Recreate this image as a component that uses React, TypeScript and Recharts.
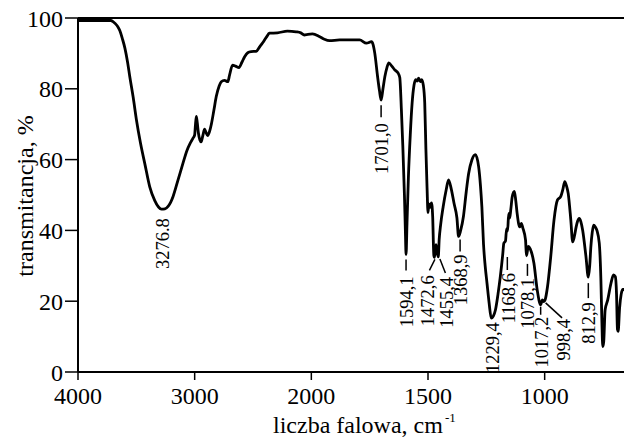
import React from "react";
import {
  LineChart,
  Line,
  XAxis,
  YAxis,
  ReferenceLine,
  ReferenceDot,
} from "recharts";

// wavenumber (cm^-1) and transmittance (%)
const waveNumbers = [
  4000, 3850, 3720, 3700, 3680, 3660, 3641, 3620, 3598, 3575,
  3556, 3527, 3499, 3464, 3427, 3385, 3342, 3310, 3285, 3255,
  3228, 3205, 3185, 3143, 3100, 3066, 3040, 3015, 3000, 2994,
  2986, 2978, 2968, 2955, 2945, 2930, 2915, 2902, 2889, 2872,
  2857, 2835, 2815, 2790, 2772, 2745, 2716, 2700, 2675, 2650,
  2620, 2595, 2573, 2545, 2516, 2473, 2440, 2417, 2385, 2359,
  2290, 2205, 2131, 2090, 2060, 2030, 1995, 1966, 1944, 1922,
  1879, 1793, 1764, 1742, 1735, 1728, 1716, 1708, 1701, 1693,
  1685, 1676, 1668, 1655, 1642, 1628, 1621, 1614, 1608, 1601,
  1597, 1594, 1590, 1584, 1576, 1568, 1560, 1553, 1546, 1540,
  1533, 1527, 1520, 1514, 1509, 1504, 1500, 1496, 1491, 1485,
  1480, 1475, 1472, 1466, 1462, 1456, 1452, 1446, 1435, 1422,
  1412, 1400, 1388, 1376, 1369, 1360, 1348, 1336, 1326, 1312,
  1297, 1283, 1275, 1269, 1262, 1255, 1247, 1238, 1229, 1220,
  1211, 1200, 1190, 1180, 1175, 1168, 1163, 1159, 1154, 1150,
  1145, 1139, 1130, 1124, 1118, 1107, 1100, 1094, 1082, 1078,
  1070, 1062, 1046, 1032, 1017, 1010, 1003, 998, 988, 974,
  960, 945, 931, 922, 914, 906, 899, 888, 880, 873,
  865, 859, 852, 845, 837, 823, 813, 807, 802, 796,
  790, 783, 776, 766, 759, 755, 751, 747, 741, 730,
  716, 705, 697, 692, 688, 685, 679, 672, 665, 660,
];

const transmittance = [
  99.3, 99.3, 99.3, 99.0, 98.4, 97.6, 96.4, 94.2, 91.5, 87.5,
  83.4, 77.6, 71.2, 64.6, 58.8, 52.3, 48.4, 46.6, 46.0, 46.1,
  46.8, 48.0, 49.6, 54.2, 59.0, 62.6, 64.5, 66.0, 67.0, 69.5,
  72.2, 70.5, 67.5, 65.5, 65.0, 66.8, 68.6, 67.6, 66.8, 68.0,
  70.0, 74.0, 77.8, 80.8, 82.0, 82.4, 82.0, 84.0, 86.7, 86.4,
  86.0, 87.5, 89.0, 90.2, 90.5, 90.6, 92.0, 93.0, 94.6, 95.7,
  95.8, 96.3, 96.1, 95.8, 95.2, 95.4, 95.5, 94.8, 94.0, 93.6,
  93.8, 93.8, 92.9, 93.3, 92.4, 90.0, 83.4, 79.5, 76.8, 80.0,
  83.4, 86.0, 87.3, 86.4, 85.3, 84.4, 83.2, 74.0, 64.0, 50.0,
  40.0, 33.2, 42.0, 55.0, 67.0, 76.0, 81.0, 82.6, 82.2, 83.0,
  82.0, 82.6, 81.0, 76.0, 63.0, 52.0, 45.0, 47.5, 46.5, 47.8,
  44.0, 33.0, 32.4, 36.0, 34.5, 32.5, 37.5, 41.5, 46.7, 51.5,
  54.3, 51.6, 47.5, 43.5, 38.3, 40.0, 44.0, 51.0, 56.0, 59.9,
  61.4, 58.0, 52.5, 46.5, 36.0, 30.0, 25.0, 19.5, 15.2, 15.8,
  17.5, 22.0, 27.0, 33.0, 36.4, 37.0, 40.5, 39.8, 44.8, 43.5,
  46.0, 49.5, 51.0, 48.5, 44.8, 41.0, 42.0, 40.8, 37.3, 32.8,
  35.5, 34.8, 30.7, 23.2, 19.0, 20.4, 19.9, 20.4, 24.0, 32.6,
  42.9, 48.6, 49.6, 51.6, 53.8, 52.5, 50.4, 43.0, 36.8, 38.2,
  41.0, 42.6, 43.4, 42.5, 40.0, 32.6, 26.8, 30.0, 35.4, 39.5,
  41.5, 41.0, 40.0, 36.4, 26.0, 15.0, 7.2, 8.5, 17.5, 20.3,
  25.0, 27.4, 26.9, 22.0, 12.0, 11.5, 18.0, 22.0, 23.3, 23.3,
];

const xTickLabels = [4000, 3000, 2000, 1500, 1000];
const yTicks = [0, 20, 40, 60, 80, 100];

const peakLabels = [
  "3276.8", "1701,0", "1594,1", "1472,6", "1455,4", "1368,9",
  "1229,4", "1168,6", "1078,1", "1017,2", "998,4", "812,9",
];
const peakWaveNumbers = [
  3276.8, 1701.0, 1594.1, 1472.6, 1455.4, 1368.9,
  1229.4, 1168.6, 1078.1, 1017.2, 998.4, 812.9,
];
const peakTransmittance = [
  46.0, 76.8, 33.2, 32.4, 32.5, 38.3, 15.2, 37.0, 32.8, 19.0, 20.2, 26.8,
];

// pixel offsets of each peak label from its point: leader line + text top
const labelLayout: Record<string, { dx: number; dy: number; leader?: number[] }> = {
  "3276.8": { dx: 0, dy: 9 },
  "1701,0": { dx: 0, dy: 23, leader: [0, 5, 0, 17] },
  "1594,1": { dx: 0, dy: 22, leader: [0, 5, 0, 16] },
  "1472,6": { dx: -7, dy: 18, leader: [0.5, 2, -5, 13] },
  "1455,4": { dx: 8.5, dy: 20, leader: [1.5, 2, 7, 16] },
  "1368,9": { dx: 1.5, dy: 18, leader: [1.5, 3, 1.5, 15] },
  "1229,4": { dx: 1.5, dy: 4 },
  "1168,6": { dx: 3, dy: 32, leader: [2, 16, 2, 29] },
  "1078,1": { dx: 1.5, dy: 22, leader: [1, 8, 1, 20] },
  "1017,2": { dx: 1, dy: 12, leader: [0, 2, 0, 10] },
  "998,4": { dx: 18.6, dy: 18.4, leader: [0.6, 2.4, 17, 17.4] },
  "812,9": { dx: 0, dy: 25, leader: [0, 6, 0, 21] },
};

const FONT = "'Liberation Serif', 'Times New Roman', serif";

// the spectrometer axis changes scale at 2000 cm-1 (1000 per unit above, 500 below)
const toPos = (w: number) => (w >= 2000 ? (4000 - w) / 1000 : 2 + (2000 - w) / 500);
const X_MAX = toPos(660);
const xTicks = xTickLabels.map(toPos);

const spectrum = waveNumbers.map((w, i) => ({ p: toPos(w), t: transmittance[i] }));

function PeakLabel(props: any) {
  const { cx, cy, text } = props;
  const lay = labelLayout[text];
  if (cx == null || cy == null) return null;
  return (
    <g>
      {lay.leader && (
        <line
          x1={cx + lay.leader[0]}
          y1={cy + lay.leader[1]}
          x2={cx + lay.leader[2]}
          y2={cy + lay.leader[3]}
          stroke="#000"
          strokeWidth={1.5}
        />
      )}
      <text
        transform={`translate(${cx + lay.dx},${cy + lay.dy}) rotate(-90)`}
        textAnchor="end"
        dy="0.35em"
        fontSize={18.5}
        fontFamily={FONT}
        fill="#000"
      >
        {text}
      </text>
    </g>
  );
}

export default function App() {
  return (
    <div
      style={{ position: "absolute", left: 0, top: 0, background: "#fff", fontFamily: FONT }}
    >
      <LineChart
        width={625}
        height={437}
        data={spectrum}
        margin={{ top: 18, right: 1, bottom: 0, left: 0 }}
      >
        <XAxis
          dataKey="p"
          type="number"
          domain={[0, X_MAX]}
          ticks={xTicks}
          interval={0}
          tickFormatter={(p: number) => {
            const i = xTicks.findIndex((t) => Math.abs(t - p) < 1e-3);
            return i >= 0 ? String(xTickLabels[i]) : String(p);
          }}
          allowDataOverflow
          height={65}
          tickSize={8}
          tickMargin={7}
          axisLine={{ stroke: "#000", strokeWidth: 2 }}
          tickLine={{ stroke: "#000", strokeWidth: 1.5 }}
          tick={{ fill: "#000", fontSize: 24, fontFamily: FONT }}
        />
        <YAxis
          type="number"
          domain={[0, 100]}
          ticks={yTicks}
          interval={0}
          width={78}
          tickSize={13}
          axisLine={{ stroke: "#000", strokeWidth: 2 }}
          tickLine={{ stroke: "#000", strokeWidth: 1.5 }}
          tick={{ fill: "#000", fontSize: 24, fontFamily: FONT }}
          label={{
            content: () => (
              <text
                x={33}
                y={196}
                transform="rotate(-90, 33, 196)"
                textAnchor="middle"
                fontSize={24}
                fontFamily={FONT}
                fill="#000"
              >
                transmitancja, %
              </text>
            ),
          }}
        />
        <ReferenceLine y={100} stroke="#000" strokeWidth={2} />
        <Line
          type="monotone"
          dataKey="t"
          stroke="#000"
          strokeWidth={2.8}
          dot={false}
          isAnimationActive={false}
        />
        {peakLabels.map((label, i) => (
          <ReferenceDot
            key={label}
            x={toPos(peakWaveNumbers[i])}
            y={peakTransmittance[i]}
            r={2}
            shape={(props: any) => <PeakLabel {...props} text={label} />}
          />
        ))}
        <text x={273} y={433} fontSize={24} fontFamily={FONT} fill="#000">
          liczba falowa, cm
          <tspan dx={2} dy={-11} fontSize={13}>-1</tspan>
        </text>
      </LineChart>
    </div>
  );
}
